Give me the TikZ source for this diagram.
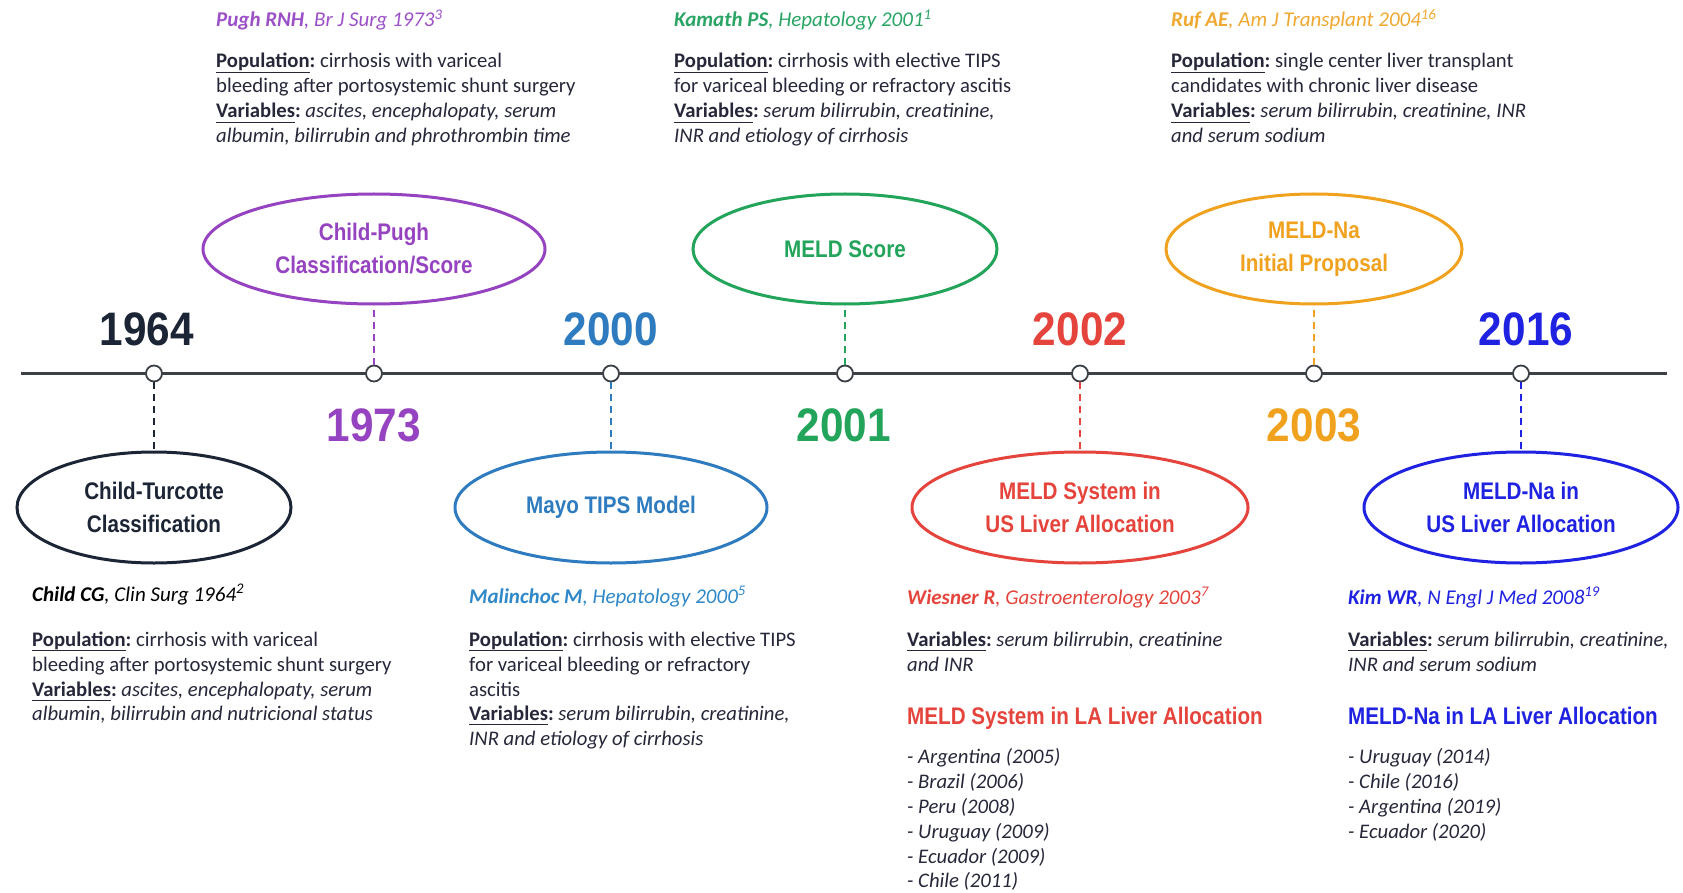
\documentclass[tikz,border=0pt]{standalone}
\usepackage{fontspec}
\setmainfont{Carlito}
\newfontfamily\condfam[FakeStretch=0.86]{Liberation Sans}
\newfontfamily\yrfam[FakeStretch=0.9]{Liberation Sans}
\usetikzlibrary{shapes.geometric}
\definecolor{linec}{HTML}{3C4147}
\definecolor{cdark}{HTML}{1C2535}
\definecolor{cpur}{HTML}{9543C0}
\definecolor{cblu}{HTML}{2E7CBF}
\definecolor{cgrn}{HTML}{22A45A}
\definecolor{cred}{HTML}{E5443C}
\definecolor{cora}{HTML}{F0A21E}
\definecolor{cbltwo}{HTML}{1F22E0}
\definecolor{bodyc}{HTML}{26283A}
\definecolor{tpur}{HTML}{9B50C8}
\definecolor{tgrn}{HTML}{2BA565}
\definecolor{tora}{HTML}{F0A830}
\definecolor{tblu}{HTML}{2F88C8}
\newcommand\bodyfont{\fontsize{20.7}{25}\selectfont}
\newcommand\ttlfont{\itshape\fontsize{21}{25}\selectfont}
\newcommand\lblfont{\condfam\bfseries\fontsize{24}{33}\selectfont}
\newcommand\hdfont{\condfam\bfseries\fontsize{24}{28}\selectfont}
\newcommand\yrfont{\yrfam\bfseries\fontsize{47}{50}\selectfont}
\newcommand\undl[1]{\leavevmode\vtop{\hbox{\vphantom{p}#1}\kern0.6pt\hrule height 1.3pt}}
\newcommand\pop{\undl{\textbf{Population}}\textbf{:}}
\newcommand\var{\undl{\textbf{Variables}}\textbf{:}}
\tikzset{
  body/.style={anchor=base west, inner sep=0, font=\bodyfont, text=bodyc},
  ttl/.style={anchor=base west, inner sep=0, font=\ttlfont},
  hd/.style={anchor=base west, inner sep=0, font=\hdfont},
  yr/.style={inner sep=0, font=\yrfont},
  lbl/.style={ellipse, draw=#1, text=#1, line width=3pt, inner sep=0, align=center, font=\lblfont},
  dot/.style={circle, draw=linec, fill=white, line width=1.8pt, minimum size=16pt, inner sep=0},
  conn/.style={line width=2pt, dash pattern=on 7pt off 5pt},
}
\begin{document}
\begin{tikzpicture}[x=1pt,y=-1pt]
\path[use as bounding box, fill=white] (0,0) rectangle (1683,893);
% timeline
\coordinate (tl) at (21,373.5);
\coordinate (tr) at (1667,373.5);
\draw[linec, line width=3.5pt] (tl) -- (tr);
% ellipses
\node[lbl=cdark, minimum width=274, minimum height=111] (e1) at (154,507.5) {Child-Turcotte\\Classification};
\node[lbl=cpur, minimum width=342, minimum height=110] (e2) at (374,249) {Child-Pugh\\Classification/Score};
\node[lbl=cblu, minimum width=312, minimum height=111] (e3) at (611,507.5) {Mayo TIPS Model};
\node[lbl=cgrn, minimum width=304, minimum height=110] (e4) at (845,249) {MELD Score};
\node[lbl=cred, minimum width=336, minimum height=111] (e5) at (1080,507.5) {MELD System in\\US Liver Allocation};
\node[lbl=cora, minimum width=296, minimum height=110] (e6) at (1314,249) {MELD-Na\\Initial Proposal};
\node[lbl=cbltwo, minimum width=314, minimum height=111] (e7) at (1521,507.5) {MELD-Na in\\US Liver Allocation};
% dots
\node[dot] (c1) at (154,373.5) {};
\node[dot] (c2) at (374,373.5) {};
\node[dot] (c3) at (611,373.5) {};
\node[dot] (c4) at (845,373.5) {};
\node[dot] (c5) at (1080,373.5) {};
\node[dot] (c6) at (1314,373.5) {};
\node[dot] (c7) at (1521,373.5) {};
% dashed connectors
\draw[conn, cdark] (c1) -- (e1);
\draw[conn, cpur] (c2) -- (e2);
\draw[conn, cblu] (c3) -- (e3);
\draw[conn, cgrn] (c4) -- (e4);
\draw[conn, cred] (c5) -- (e5);
\draw[conn, cora] (c6) -- (e6);
\draw[conn, cbltwo] (c7) -- (e7);
% years
\node[yr, text=cdark] (y1) at (147,329) {1964};
\node[yr, text=cpur] (y2) at (374,425) {1973};
\node[yr, text=cblu] (y3) at (611,329) {2000};
\node[yr, text=cgrn] (y4) at (844,425) {2001};
\node[yr, text=cred] (y5) at (1080,329) {2002};
\node[yr, text=cora] (y6) at (1314,425) {2003};
\node[yr, text=cbltwo] (y7) at (1526,329) {2016};
% top text blocks
\node[ttl, text=tpur] (pt) at (216,27) {\textbf{Pugh RNH}, Br J Surg 1973\textsuperscript{3}};
\node[body] (p1) at (216,68) {\pop\ cirrhosis with variceal};
\node[body] (p2) at (216,93) {bleeding after portosystemic shunt surgery};
\node[body] (p3) at (216,118) {\var\ \textit{ascites, encephalopaty, serum}};
\node[body] (p4) at (216,143) {\textit{albumin, bilirrubin and phrothrombin time}};
\node[ttl, text=tgrn] (kt) at (674,27) {\textbf{Kamath PS}, Hepatology 2001\textsuperscript{1}};
\node[body] (k1) at (674,68) {\pop\ cirrhosis with elective TIPS};
\node[body] (k2) at (674,93) {for variceal bleeding or refractory ascitis};
\node[body] (k3) at (674,118) {\var\ \textit{serum bilirrubin, creatinine,}};
\node[body] (k4) at (674,143) {\textit{INR and etiology of cirrhosis}};
\node[ttl, text=tora] (rt) at (1171,27) {\textbf{Ruf AE}, Am J Transplant 2004\textsuperscript{16}};
\node[body] (r1) at (1171,68) {\pop\ single center liver transplant};
\node[body] (r2) at (1171,93) {candidates with chronic liver disease};
\node[body] (r3) at (1171,118) {\var\ \textit{serum bilirrubin, creatinine, INR}};
\node[body] (r4) at (1171,143) {\textit{and serum sodium}};
% bottom text blocks
\node[ttl, text=black] (ct) at (32,601) {\textbf{Child CG}, Clin Surg 1964\textsuperscript{2}};
\node[body] (cc1) at (32,646) {\pop\ cirrhosis with variceal};
\node[body] (cc2) at (32,671) {bleeding after portosystemic shunt surgery};
\node[body] (cc3) at (32,696) {\var\ \textit{ascites, encephalopaty, serum}};
\node[body] (cc4) at (32,720) {\textit{albumin, bilirrubin and nutricional status}};
\node[ttl, text=tblu] (mt) at (469,603) {\textbf{Malinchoc M}, Hepatology 2000\textsuperscript{5}};
\node[body] (m1) at (469,646) {\pop\ cirrhosis with elective TIPS};
\node[body] (m2) at (469,671) {for variceal bleeding or refractory};
\node[body] (m3) at (469,696) {ascitis};
\node[body] (m4) at (469,720) {\var\ \textit{serum bilirrubin, creatinine,}};
\node[body] (m5) at (469,745) {\textit{INR and etiology of cirrhosis}};
\node[ttl, text=cred] (wt) at (907,604) {\textbf{Wiesner R}, Gastroenterology 2003\textsuperscript{7}};
\node[body] (w1) at (907,646) {\var\ \textit{serum bilirrubin, creatinine}};
\node[body] (w2) at (907,671) {\textit{and INR}};
\node[hd, text=cred] (wh) at (907,724) {MELD System in LA Liver Allocation};
\node[body] (wl1) at (907,763) {\textit{- Argentina (2005)}};
\node[body] (wl2) at (907,788) {\textit{- Brazil (2006)}};
\node[body] (wl3) at (907,813) {\textit{- Peru (2008)}};
\node[body] (wl4) at (907,838) {\textit{- Uruguay (2009)}};
\node[body] (wl5) at (907,863) {\textit{- Ecuador (2009)}};
\node[body] (wl6) at (907,887) {\textit{- Chile (2011)}};
\node[ttl, text=cbltwo] (kmt) at (1348,604) {\textbf{Kim WR}, N Engl J Med 2008\textsuperscript{19}};
\node[body] (km1) at (1348,646) {\var\ \textit{serum bilirrubin, creatinine,}};
\node[body] (km2) at (1348,671) {\textit{INR and serum sodium}};
\node[hd, text=cbltwo] (kh) at (1348,724) {MELD-Na in LA Liver Allocation};
\node[body] (kl1) at (1348,763) {\textit{- Uruguay (2014)}};
\node[body] (kl2) at (1348,788) {\textit{- Chile (2016)}};
\node[body] (kl3) at (1348,813) {\textit{- Argentina (2019)}};
\node[body] (kl4) at (1348,838) {\textit{- Ecuador (2020)}};
\end{tikzpicture}
\end{document}
